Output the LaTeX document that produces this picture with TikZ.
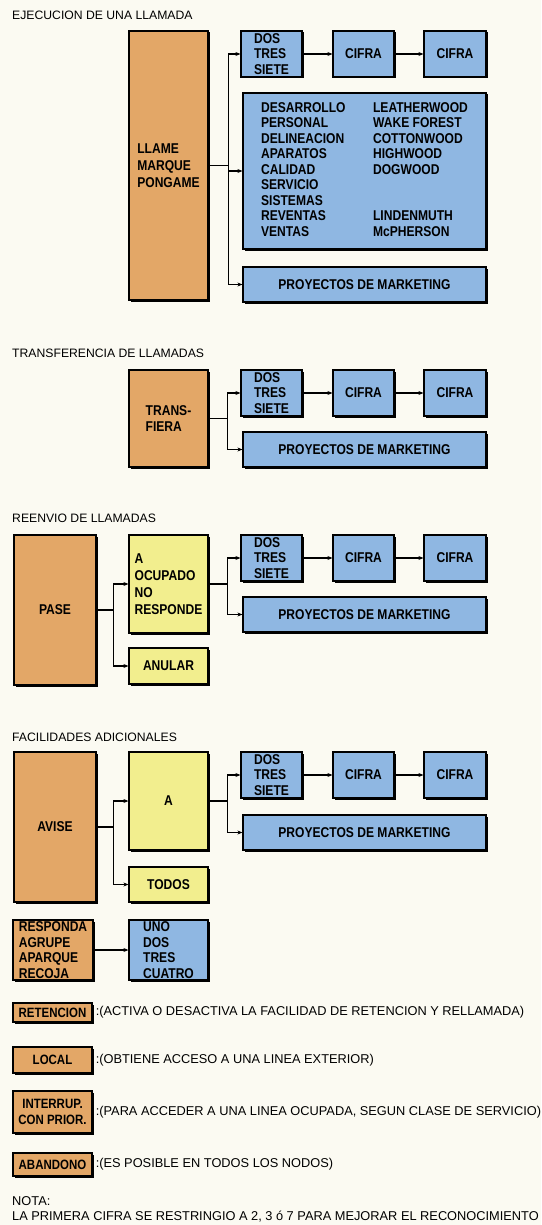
\documentclass[tikz,border=0pt]{standalone}
\usepackage{fontspec}
\setmainfont{Liberation Sans}
\newfontfamily\boxfont{Liberation Sans}[FakeStretch=0.85]
\usetikzlibrary{positioning}
\usetikzlibrary{shadows}
\usetikzlibrary{arrows.meta}

\definecolor{paper}{HTML}{FBFAF2}
\definecolor{boxorange}{HTML}{E3A767}
\definecolor{boxyellow}{HTML}{F2EE8E}
\definecolor{boxblue}{HTML}{8FB7E2}

\tikzset{
  box/.style={draw=black, line width=1.2pt, inner sep=0pt, align=left,
    font=\boxfont\bfseries\fontsize{14.2}{15.5}\selectfont,
    general shadow={fill=black, shadow xshift=1.5pt, shadow yshift=-1.5pt}},
  orangebox/.style={box, fill=boxorange},
  yellowbox/.style={box, fill=boxyellow},
  bluebox/.style={box, fill=boxblue},
  legendbox/.style={orangebox, minimum width=79pt, align=center,
    font=\boxfont\bfseries\fontsize{13.5}{15.5}\selectfont},
  heading/.style={anchor=west, inner sep=0pt, font=\fontsize{12.2}{15}\selectfont},
  legendtext/.style={inner sep=0pt, font=\fontsize{12.8}{15}\selectfont},
  link/.style={line width=1.1pt},
  arr/.style={link, -{Stealth[length=5pt, width=4pt]}},
}

\begin{document}
\begin{tikzpicture}[x=1pt, y=-1pt]
  \fill[paper] (0,0) rectangle (541,1225);
  \useasboundingbox (0,0) rectangle (541,1225);

  % Ejecucion de una llamada
  \node[heading] (h1) at (12,15) {EJECUCION DE UNA LLAMADA};
  \node[orangebox, minimum width=79pt, minimum height=269pt, font=\boxfont\bfseries\fontsize{14.2}{17}\selectfont] (llame) at (168.5,165.5) {LLAME\\MARQUE\\PONGAME};
  \node[bluebox, minimum width=61pt, minimum height=46pt] (dos1) at (271.5,54) {DOS\\TRES\\SIETE};
  \node[bluebox, minimum width=61pt, minimum height=46pt] (cifA1) at (363.5,54) {CIFRA};
  \node[bluebox, minimum width=62pt, minimum height=46pt] (cifB1) at (455,54) {CIFRA};
  \node[bluebox, minimum width=243pt, minimum height=156pt] (lista) at (364.5,171) {%
    \begin{tabular}{@{}p{112pt}@{}l@{}}
      DESARROLLO & LEATHERWOOD\\
      PERSONAL & WAKE FOREST\\
      DELINEACION & COTTONWOOD\\
      APARATOS & HIGHWOOD\\
      CALIDAD & DOGWOOD\\
      SERVICIO & \\
      SISTEMAS & \\
      REVENTAS & LINDENMUTH\\
      VENTAS & McPHERSON
    \end{tabular}};
  \node[bluebox, minimum width=243pt, minimum height=35pt] (proy1) at (364.5,284.5) {PROYECTOS DE MARKETING};
  \coordinate[right=20pt of llame] (j1);
  \draw[link] (llame.east) -- (j1);
  \draw[arr] (j1) |- (dos1.west);
  \draw[arr] (j1) |- (lista.west);
  \draw[arr] (j1) |- (proy1.west);
  \draw[arr] (dos1) -- (cifA1);
  \draw[arr] (cifA1) -- (cifB1);

  % Transferencia de llamadas
  \node[heading] (h2) at (12,353) {TRANSFERENCIA DE LLAMADAS};
  \node[orangebox, minimum width=79pt, minimum height=97pt] (transf) at (168.5,418.5) {TRANS-\\FIERA};
  \node[bluebox, minimum width=61pt, minimum height=46pt] (dos2) at (271.5,393) {DOS\\TRES\\SIETE};
  \node[bluebox, minimum width=61pt, minimum height=46pt] (cifA2) at (363.5,393) {CIFRA};
  \node[bluebox, minimum width=62pt, minimum height=46pt] (cifB2) at (455,393) {CIFRA};
  \node[bluebox, minimum width=243pt, minimum height=35pt] (proy2) at (364.5,449.5) {PROYECTOS DE MARKETING};
  \coordinate[right=19pt of transf] (j2);
  \draw[link] (transf.east) -- (j2);
  \draw[arr] (j2) |- (dos2.west);
  \draw[arr] (j2) |- (proy2.west);
  \draw[arr] (dos2) -- (cifA2);
  \draw[arr] (cifA2) -- (cifB2);

  % Reenvio de llamadas
  \node[heading] (h3) at (12,518) {REENVIO DE LLAMADAS};
  \node[orangebox, minimum width=82pt, minimum height=150pt] (pase) at (55,610) {PASE};
  \node[yellowbox, minimum width=79pt, minimum height=98pt, font=\boxfont\bfseries\fontsize{14.2}{17}\selectfont] (ocup) at (168.5,584) {A\\OCUPADO\\NO\\RESPONDE};
  \node[yellowbox, minimum width=79pt, minimum height=36pt] (anular) at (168.5,666) {ANULAR};
  \node[bluebox, minimum width=61pt, minimum height=46pt] (dos3) at (271.5,558) {DOS\\TRES\\SIETE};
  \node[bluebox, minimum width=61pt, minimum height=46pt] (cifA3) at (363.5,558) {CIFRA};
  \node[bluebox, minimum width=62pt, minimum height=46pt] (cifB3) at (455,558) {CIFRA};
  \node[bluebox, minimum width=243pt, minimum height=35pt] (proy3) at (364.5,614.5) {PROYECTOS DE MARKETING};
  \coordinate[right=17pt of pase] (j3);
  \coordinate[right=19pt of ocup] (j4);
  \draw[link] (pase.east) -- (j3);
  \draw[arr] (j3) |- (ocup.west);
  \draw[arr] (j3) |- (anular.west);
  \draw[link] (ocup.east) -- (j4);
  \draw[arr] (j4) |- (dos3.west);
  \draw[arr] (j4) |- (proy3.west);
  \draw[arr] (dos3) -- (cifA3);
  \draw[arr] (cifA3) -- (cifB3);

  % Facilidades adicionales
  \node[heading] (h4) at (12,737) {FACILIDADES ADICIONALES};
  \node[orangebox, minimum width=82pt, minimum height=150pt] (avise) at (55,827) {AVISE};
  \node[yellowbox, minimum width=79pt, minimum height=98pt] (aa) at (168.5,801) {A};
  \node[yellowbox, minimum width=79pt, minimum height=35pt] (todos) at (168.5,884.5) {TODOS};
  \node[bluebox, minimum width=61pt, minimum height=46pt] (dos4) at (271.5,775) {DOS\\TRES\\SIETE};
  \node[bluebox, minimum width=61pt, minimum height=46pt] (cifA4) at (363.5,775) {CIFRA};
  \node[bluebox, minimum width=62pt, minimum height=46pt] (cifB4) at (455,775) {CIFRA};
  \node[bluebox, minimum width=243pt, minimum height=35pt] (proy4) at (364.5,832.5) {PROYECTOS DE MARKETING};
  \coordinate[right=17pt of avise] (j5);
  \coordinate[right=19pt of aa] (j6);
  \draw[link] (avise.east) -- (j5);
  \draw[arr] (j5) |- (aa.west);
  \draw[arr] (j5) |- (todos.west);
  \draw[link] (aa.east) -- (j6);
  \draw[arr] (j6) |- (dos4.west);
  \draw[arr] (j6) |- (proy4.west);
  \draw[arr] (dos4) -- (cifA4);
  \draw[arr] (cifA4) -- (cifB4);

  \node[orangebox, minimum width=80pt, minimum height=60pt] (responda) at (53,950) {RESPONDA\\AGRUPE\\APARQUE\\RECOJA};
  \node[bluebox, minimum width=79pt, minimum height=60pt] (uno) at (168.5,950) {UNO\\DOS\\TRES\\CUATRO};
  \draw[arr] (responda) -- (uno);

  % Leyenda
  \node[legendbox, minimum height=19pt] (ret) at (52.5,1012.5) {RETENCION};
  \node[legendbox, minimum height=26pt] (local) at (52.5,1060) {LOCAL};
  \node[legendbox, minimum height=42pt] (interr) at (52.5,1112) {INTERRUP.\\CON PRIOR.};
  \node[legendbox, minimum height=23pt] (aband) at (52.5,1164.5) {ABANDONO};
  \node[legendtext, right=3pt of ret] (retx) {:(ACTIVA O DESACTIVA LA FACILIDAD DE RETENCION Y RELLAMADA)};
  \node[legendtext, right=3pt of local] (localx) {:(OBTIENE ACCESO A UNA LINEA EXTERIOR)};
  \node[legendtext, right=3pt of interr] (interrx) {:(PARA ACCEDER A UNA LINEA OCUPADA, SEGUN CLASE DE SERVICIO)};
  \node[legendtext, right=3pt of aband] (abandx) {:(ES POSIBLE EN TODOS LOS NODOS)};

  \node[legendtext, anchor=north west, align=left] (nota) at (12,1196) {NOTA:\\LA PRIMERA CIFRA SE RESTRINGIO A 2, 3 ó 7 PARA MEJORAR EL RECONOCIMIENTO};
\end{tikzpicture}
\end{document}
